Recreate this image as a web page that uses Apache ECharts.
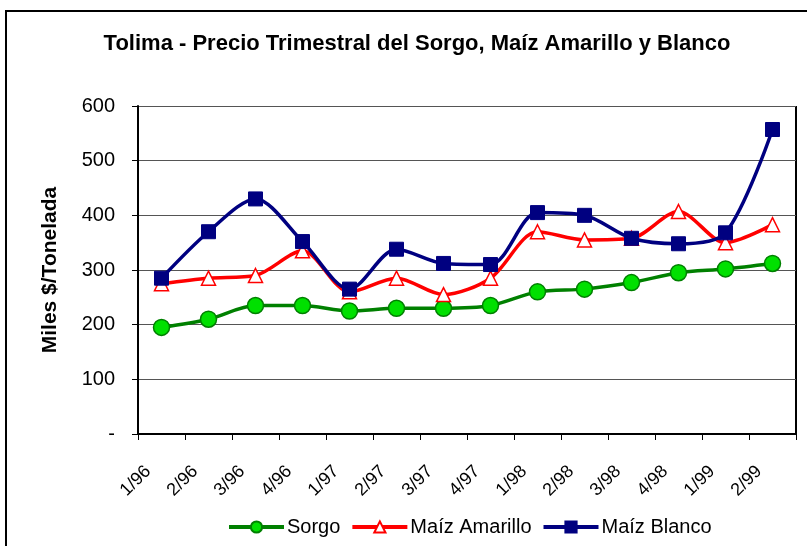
<!DOCTYPE html>
<html><head><meta charset="utf-8">
<script src="https://cdn.jsdelivr.net/npm/echarts@6/dist/echarts.min.js"></script>
<style>html,body{margin:0;padding:0;background:#fff}#c{width:807px;height:546px}</style>
</head><body><div id="c"></div>
<script>
var categories = ['1/96','2/96','3/96','4/96','1/97','2/97','3/97','4/97','1/98','2/98','3/98','4/98','1/99','2/99'];
var sorgo = [195,210,235,235,225,230,230,235,260,265,277,295,302,312];
var maizAmarillo = [275,285,290,335,260,285,255,285,370,355,358,407,350,383];
var maizBlanco = [285,370,430,352,265,338,312,310,405,400,358,348,368,557];
var yTicks = [0,100,200,300,400,500,600];

var chart = echarts.init(document.getElementById('c'));
var font = 'Liberation Sans, Arial, sans-serif';
chart.setOption({
  animation:false,
  textStyle:{fontFamily:font},
  graphic:[
    {type:'rect',shape:{x:6,y:11,width:810,height:545},style:{fill:null,stroke:'#000',lineWidth:2}},
    {type:'line',shape:{x1:796,y1:106,x2:796,y2:434},style:{stroke:'#000',lineWidth:2}}
  ],
  title:{text:'Tolima - Precio Trimestral del Sorgo, Maíz Amarillo y Blanco',left:412,textAlign:'center',top:28,
    textStyle:{fontFamily:font,fontSize:22,fontWeight:'bold',color:'#000'}},
  grid:{left:138,right:11,top:106,bottom:112,containLabel:false},
  legend:{top:512,left:222,orient:'horizontal',itemWidth:55,itemHeight:14,itemGap:10,
    lineStyle:{width:4},
    textStyle:{fontFamily:font,fontSize:20,color:'#000',padding:[0,0,0,-2]},
    data:['Sorgo','Maíz Amarillo','Maíz Blanco']},
  xAxis:{type:'category',data:categories,boundaryGap:true,
    axisLine:{lineStyle:{color:'#000',width:2}},
    axisTick:{show:true,length:6,inside:false,lineStyle:{color:'#000'}},
    axisLabel:{rotate:45,fontSize:18,color:'#000',margin:48,fontFamily:font,
      verticalAlign:'bottom',padding:[0,0,10,0]},
    splitLine:{show:false}},
  yAxis:{type:'value',min:0,max:600,interval:100,
    name:'Miles $/Tonelada',nameLocation:'middle',nameGap:77,
    nameTextStyle:{fontFamily:font,fontSize:21,fontWeight:'bold',color:'#000'},
    axisLine:{show:true,lineStyle:{color:'#000',width:2}},
    axisTick:{show:true,length:6,lineStyle:{color:'#000'}},
    axisLabel:{fontSize:20,color:'#000',margin:23,fontFamily:font,
      formatter:function(v){return v===0?'-':String(v);}},
    splitLine:{show:true,lineStyle:{color:'#555',width:1}}},
  series:[
    {name:'Sorgo',type:'line',data:sorgo,smooth:0.3,symbol:'circle',symbolSize:16,
      lineStyle:{color:'#008000',width:3.5},
      itemStyle:{color:'#00e000',borderColor:'#008000',borderWidth:1.5}},
    {name:'Maíz Amarillo',type:'line',data:maizAmarillo,smooth:0.3,symbol:'triangle',symbolSize:14,
      lineStyle:{color:'#ff0000',width:3.5},
      itemStyle:{color:'#ffffff',borderColor:'#ff0000',borderWidth:1.5}},
    {name:'Maíz Blanco',type:'line',data:maizBlanco,smooth:0.3,symbol:'rect',symbolSize:14,
      lineStyle:{color:'#000080',width:3.5},
      itemStyle:{color:'#000080',borderColor:'#000080',borderWidth:1}}
  ]
});
</script></body></html>
